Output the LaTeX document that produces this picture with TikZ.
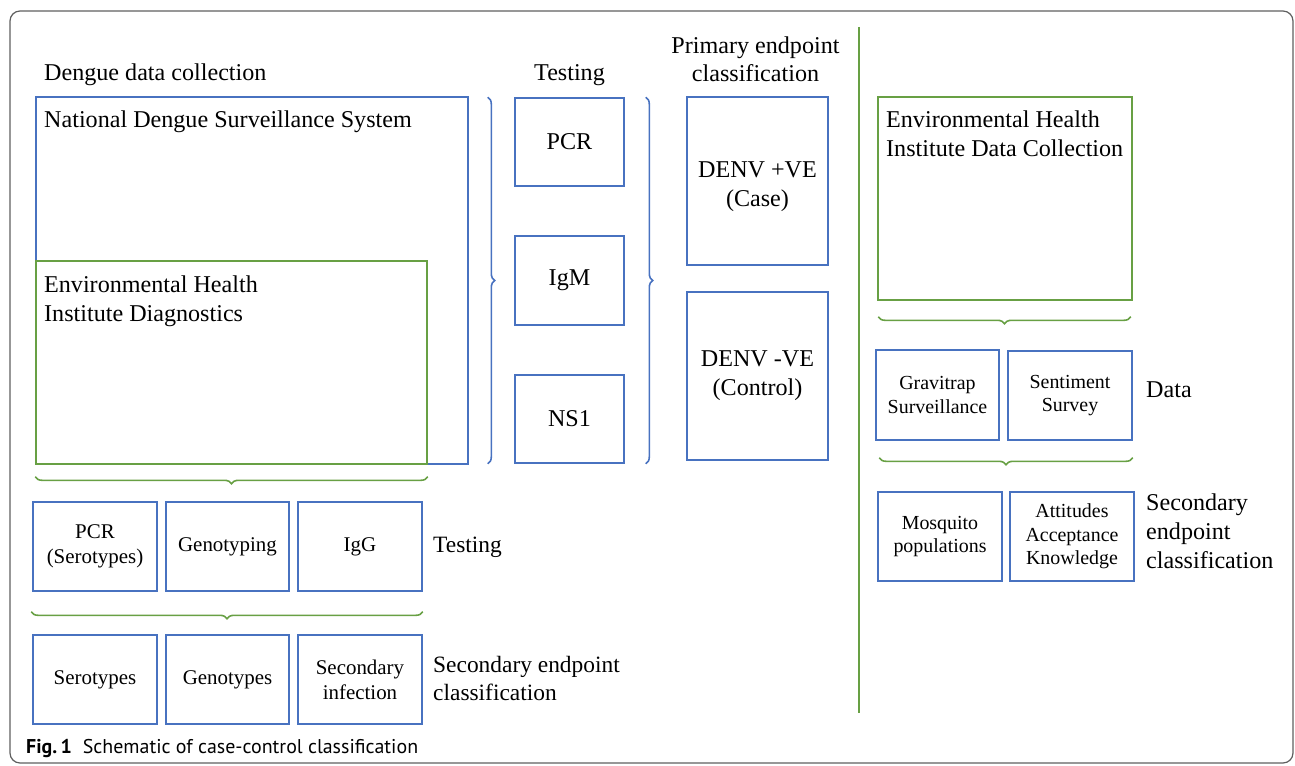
\documentclass[tikz,border=0pt]{standalone}
\usepackage{fontspec}
\setmainfont{Liberation Serif}
\newfontfamily\capfont{PT Sans}
\usetikzlibrary{decorations.pathreplacing,calc}
\definecolor{bblue}{RGB}{72,114,192}
\definecolor{ggreen}{RGB}{104,160,68}
\definecolor{framegray}{RGB}{95,95,95}
\begin{document}
\begin{tikzpicture}[x=1bp,y=-1bp,
  bx/.style={draw=bblue, line width=1.6bp, inner sep=0pt, align=center, font=\fontsize{24.2}{29}\selectfont},
  gbx/.style={bx, draw=ggreen},
  sbx/.style={bx, font=\fontsize{21}{25}\selectfont, minimum width=124bp, minimum height=89bp},
  rbx/.style={bx, font=\fontsize{20}{23.5}\selectfont, minimum width=124bp, minimum height=89bp},
  lbl/.style={inner sep=0pt, align=left, anchor=base west, font=\fontsize{24.2}{29}\selectfont},
  slbl/.style={lbl, font=\fontsize{23.5}{28}\selectfont},
  brc/.style={decorate, decoration={brace, amplitude=7bp}, line width=1.6bp},
  vline/.style={draw=ggreen, line width=2bp}]
\useasboundingbox (0,0) rectangle (1295,766);
\draw[framegray, line width=1.2bp, rounded corners=10bp] (10,11) rectangle (1293,763);

% left column
\node[lbl] (ddc) at (44,81) {Dengue data collection};
\node[bx, minimum width=432bp, minimum height=367bp] (ndss) at (252,280.5) {};
\node[lbl] (ndssT) at (44,128) {National Dengue Surveillance System};
\node[gbx, minimum width=391bp, minimum height=203bp] (ehd) at (231.5,362.5) {};
\node[lbl] (ehdT) at (44,321) {Environmental Health\\Institute Diagnostics};
\draw[brc, draw=ggreen] ($(ehd.south east)+(0,12)$) -- ($(ehd.south west)+(0,12)$);

\node[sbx] (pcrs) at (95,546.5) {PCR\\(Serotypes)};
\node[sbx, minimum width=123bp] (geno) at (227.5,546.5) {Genotyping};
\node[sbx] (igg) at (360,546.5) {IgG};
\node[slbl] (test2) at (433,552) {Testing};
\draw[brc, draw=ggreen] ($(igg.south east)+(0,20)$) -- ($(pcrs.south west)+(-1,20)$);

\node[sbx] (sero) at (95,679.5) {Serotypes};
\node[sbx, minimum width=123bp] (genos) at (227.5,679.5) {Genotypes};
\node[sbx] (secinf) at (360,679.5) {Secondary\\infection};
\node[slbl] (sec2) at (433,700) {Secondary endpoint\\classification};

% testing column
\node[lbl, anchor=base] (test1) at (569.5,81) {Testing};
\draw[brc, draw=bblue] ($(ndss.north east)+(19,1)$) -- ($(ndss.south east)+(19,-1)$);
\node[bx, minimum width=109bp, minimum height=88bp] (pcr) at (569.5,142) {PCR};
\node[bx, minimum width=109bp, minimum height=89bp] (igm) at (569.5,280.5) {IgM};
\node[bx, minimum width=109bp, minimum height=88bp] (ns1) at (569.5,419) {NS1};
\draw[brc, draw=bblue] ($(pcr.north east)+(21,0)$) -- ($(ns1.south east)+(21,0)$);

% primary endpoint
\node[lbl, anchor=base, align=center] (pec) at (755.5,82) {Primary endpoint\\classification};
\node[bx, minimum width=141bp, minimum height=168bp] (case) at (757.5,181) {};
\node[inner sep=0pt, align=center, font=\fontsize{24.2}{29}\selectfont] (caseT) at ($(case.center)+(0,6)$) {DENV +VE\\(Case)};
\node[bx, minimum width=141bp, minimum height=168bp] (ctrl) at (757.5,376) {DENV -VE\\(Control)};

% divider
\coordinate (vtop) at (859,27);
\coordinate (vbot) at (859,713);
\draw[vline] (vtop) -- (vbot);

% right column
\node[gbx, minimum width=254bp, minimum height=203bp] (ehdc) at (1005,198.5) {};
\node[lbl] (ehdcT) at (886,156) {Environmental Health\\Institute Data Collection};
\draw[brc, draw=ggreen] ($(ehdc.south east)+(-2,16)$) -- ($(ehdc.south west)+(1,16)$);
\node[rbx, minimum width=123bp, minimum height=90bp] (grav) at (937.5,395) {Gravitrap\\Surveillance};
\node[rbx] (sent) at (1070,395.5) {Sentiment\\Survey};
\node[lbl] (data) at (1146,397) {Data};
\draw[brc, draw=ggreen] ($(sent.south east)+(0,17)$) -- ($(grav.south west)+(4,17)$);
\node[rbx] (mosq) at (940,536.5) {Mosquito\\populations};
\node[rbx] (att) at (1072,536.5) {Attitudes\\Acceptance\\Knowledge};
\node[lbl] (sec3) at (1146,568) {Secondary\\endpoint\\classification};

% caption
\node[anchor=base west, inner sep=0pt, font=\capfont\fontsize{20}{24}\selectfont] (cap) at (26,753) {\textbf{Fig.\,1}\hspace{11bp}Schematic of case-control classification};
\end{tikzpicture}
\end{document}
